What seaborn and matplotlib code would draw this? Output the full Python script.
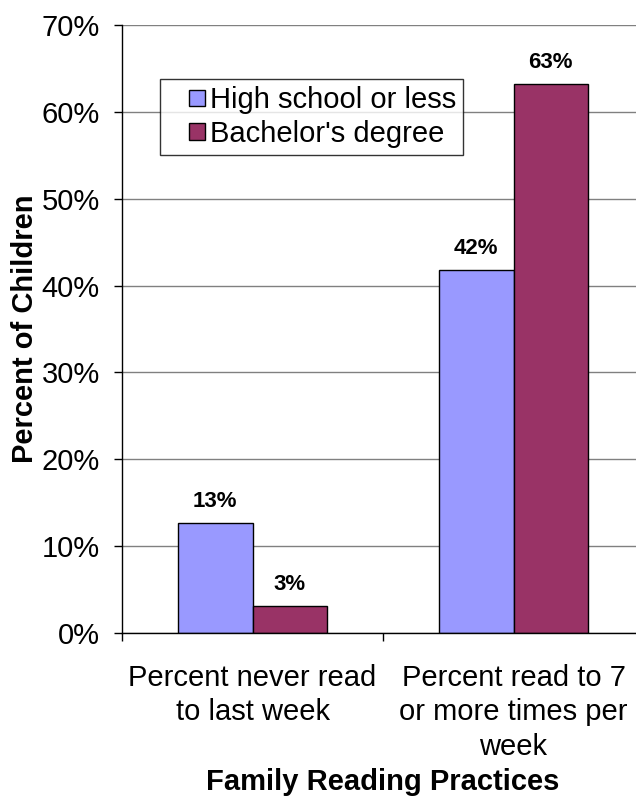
import matplotlib
matplotlib.use("Agg")
import matplotlib.pyplot as plt
import seaborn as sns
import pandas as pd
from matplotlib.ticker import FixedLocator, PercentFormatter
from matplotlib.legend_handler import HandlerPatch
from matplotlib.patches import Rectangle

categories = ["Percent never read\nto last week",
              "Percent read to 7\nor more times per\nweek"]
groups = ["High school or less", "Bachelor's degree"]
high_school = [12.7, 41.8]
bachelors = [3.1, 63.2]
value_labels_hs = ["13%", "42%"]
value_labels_ba = ["3%", "63%"]
yticks = [0, 10, 20, 30, 40, 50, 60, 70]

df = pd.DataFrame({
    "Category": categories * 2,
    "Group": [groups[0]] * 2 + [groups[1]] * 2,
    "Value": high_school + bachelors,
})

sns.set_style("white")
plt.rcParams["font.family"] = ["Liberation Sans", "DejaVu Sans"]
for k in ["text.color", "axes.labelcolor", "xtick.color", "ytick.color"]:
    plt.rcParams[k] = "black"

FS = 21

W, H = 636, 796
fig = plt.figure(figsize=(W / 100, H / 100), dpi=100)
ax_left, ax_right, ax_top, ax_bottom = 122, 644, 25, 633
ax = fig.add_axes([ax_left / W, 1 - ax_bottom / H,
                   (ax_right - ax_left) / W, (ax_bottom - ax_top) / H])

palette = {groups[0]: "#9999FF", groups[1]: "#993366"}
sns.barplot(data=df, x="Category", y="Value", hue="Group", palette=palette,
            order=categories, hue_order=groups, width=0.57,
            edgecolor="black", linewidth=1, saturation=1, ax=ax, zorder=3)

ax.set_xlim(-0.5, 1.5)
ax.set_ylim(0, 70)
ax.yaxis.set_major_locator(FixedLocator(yticks))
ax.yaxis.set_major_formatter(PercentFormatter(decimals=0))
ax.grid(axis="y", color="#808080", linewidth=1, zorder=0)
ax.set_axisbelow(True)

for s in ["top", "right"]:
    ax.spines[s].set_visible(False)
for s in ["left", "bottom"]:
    ax.spines[s].set_color("black")
    ax.spines[s].set_linewidth(1)
    ax.spines[s].set_zorder(4)

ax.tick_params(axis="y", which="major", direction="out", length=6, width=1,
               color="black", pad=10, labelsize=FS, left=True)
ax.tick_params(axis="x", which="major", length=0, pad=22, labelsize=FS)
ax.xaxis.set_minor_locator(FixedLocator([-0.5, 0.5]))
ax.tick_params(axis="x", which="minor", direction="out", length=6, width=1,
               color="black", bottom=True)
for lbl in ax.get_xticklabels():
    lbl.set_multialignment("center")
    lbl.set_linespacing(1.3)

ax.set_ylabel("Percent of Children", fontsize=FS, fontweight="bold", labelpad=2)
ax.set_xlabel("Family Reading Practices", fontsize=FS, fontweight="bold", labelpad=5)

# value labels
for container, labels in zip(ax.containers, [value_labels_hs, value_labels_ba]):
    for bar, txt in zip(container, labels):
        ax.annotate(txt, (bar.get_x() + bar.get_width() / 2, bar.get_height()),
                    xytext=(0, 8), textcoords="offset points",
                    ha="center", va="bottom", fontsize=16, fontweight="bold")


def square_at_right(legend, orig_handle, xdescent, ydescent, width, height, fontsize):
    return Rectangle((-xdescent + width - height, -ydescent), height, height)


leg = ax.legend(loc="upper left",
                bbox_to_anchor=((160 - ax_left) / (ax_right - ax_left),
                                (ax_bottom - 79) / (ax_bottom - ax_top)),
                fontsize=FS, frameon=True, fancybox=False, shadow=False,
                handlelength=1.3, handleheight=0.5, handletextpad=0.15,
                borderpad=0.25, labelspacing=0.2, borderaxespad=0,
                handler_map={Rectangle: HandlerPatch(patch_func=square_at_right)})
leg.get_frame().set_edgecolor("black")
leg.get_frame().set_linewidth(1)
leg.set_zorder(5)

fig.savefig("out.png", dpi=100)
